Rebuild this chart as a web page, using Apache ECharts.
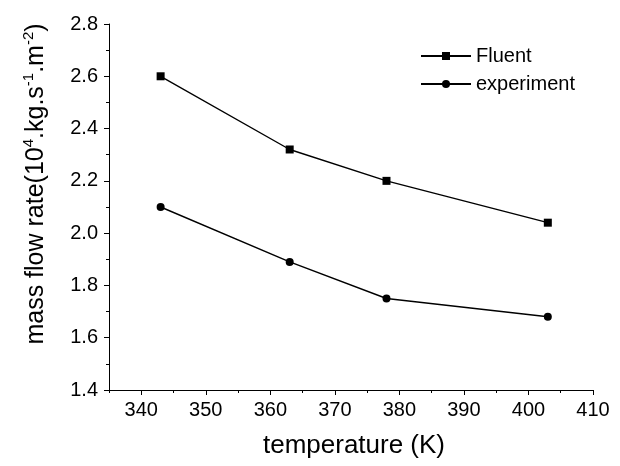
<!DOCTYPE html>
<html>
<head>
<meta charset="utf-8">
<script src="https://cdn.jsdelivr.net/npm/echarts@6/dist/echarts.min.js"></script>
<style>html,body{margin:0;padding:0;background:#fff;}#c{width:620px;height:466px;}</style>
</head>
<body>
<div id="c"></div>
<script>
var temperatures = [343, 363, 378, 403];
var fluentValues = [2.60, 2.32, 2.20, 2.04];
var experimentValues = [2.10, 1.89, 1.75, 1.68];
var seriesNames = ['Fluent', 'experiment'];
var xTickLabels = [340, 350, 360, 370, 380, 390, 400, 410];

function pairs(xs, ys) { return xs.map(function (x, i) { return [x, ys[i]]; }); }

var font = '"Liberation Sans", Arial, sans-serif';
var chart = echarts.init(document.getElementById('c'), null, { renderer: 'canvas' });
chart.setOption({
  animation: false,
  backgroundColor: '#fff',
  grid: { left: 109, right: 27, top: 24, bottom: 76, containLabel: false },
  legend: {
    left: 415, top: 41, orient: 'vertical',
    itemWidth: 50, itemHeight: 10, itemGap: 8,
    textStyle: { fontFamily: font, fontSize: 20, color: '#000' },
    data: seriesNames
  },
  xAxis: [{
    type: 'value', min: 335, max: 410, interval: 5,
    axisLine: { lineStyle: { color: '#000', width: 1 } },
    axisTick: { inside: false, length: 5, lineStyle: { color: '#000' }, customValues: xTickLabels },
    minorTick: { show: false },
    splitLine: { show: false },
    axisLabel: { fontFamily: font, fontSize: 20, color: '#000', margin: 10, customValues: xTickLabels },
    name: 'temperature (K)', nameLocation: 'middle', nameGap: 43,
    nameTextStyle: { fontFamily: font, fontSize: 26, color: '#000', padding: [0, 0, 0, 6] }
  }, {
    type: 'value', min: 335, max: 410, interval: 5, position: 'bottom',
    axisLine: { show: false },
    axisTick: { show: true, inside: false, length: 3, lineStyle: { color: '#000' } },
    axisLabel: { show: false },
    splitLine: { show: false }
  }],
  yAxis: {
    type: 'value', min: 1.4, max: 2.8, interval: 0.2,
    axisLine: { show: true, lineStyle: { color: '#000', width: 1 } },
    axisTick: { show: true, inside: false, length: 5, lineStyle: { color: '#000' } },
    minorTick: { show: true, splitNumber: 2, length: 3, lineStyle: { color: '#000' } },
    splitLine: { show: false },
    axisLabel: { fontFamily: font, fontSize: 20, color: '#000', margin: 11,
      formatter: function (v) { return v.toFixed(1); } },
    name: '{n|mass flow rate(10}{s|4}{n|.kg.s}{s|-1}{n|.m}{s|-2}{n|)}',
    nameLocation: 'middle', nameGap: 58,
    nameTextStyle: {
      fontFamily: font, fontSize: 25, color: '#000', padding: [0, 0, 0, 46],
      rich: {
        n: { fontFamily: font, fontSize: 25, color: '#000' },
        s: { fontFamily: font, fontSize: 15, color: '#000', padding: [0, 0, 15, 0] }
      }
    }
  },
  series: [
    {
      name: seriesNames[0], type: 'line', data: pairs(temperatures, fluentValues),
      xAxisIndex: 0,
      symbol: 'rect', symbolSize: 8,
      lineStyle: { color: '#000', width: 1.4 },
      itemStyle: { color: '#000' }
    },
    {
      name: seriesNames[1], type: 'line', data: pairs(temperatures, experimentValues),
      xAxisIndex: 0,
      symbol: 'circle', symbolSize: 8,
      lineStyle: { color: '#000', width: 1.4 },
      itemStyle: { color: '#000' }
    }
  ]
});
</script>
</body>
</html>
